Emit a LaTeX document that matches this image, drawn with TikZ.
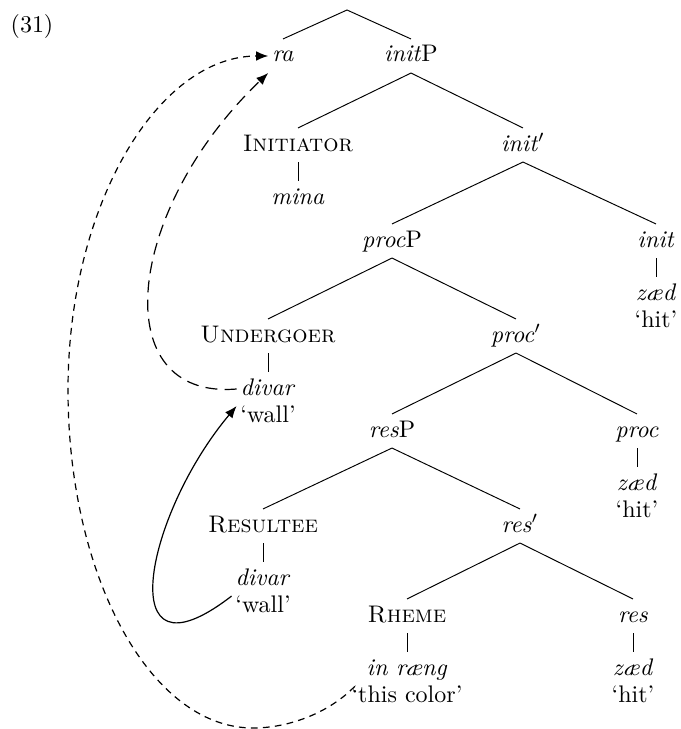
\documentclass[tikz,border=0pt]{standalone}
\usetikzlibrary{arrows.meta}
\begin{document}
\begin{tikzpicture}[x=0.4167pt,y=-0.4167pt,
  lbl/.style={inner xsep=1.5pt, inner ysep=2.4pt, text height=7pt, text depth=2pt},
  branch/.style={line width=0.4pt},
  mv/.style={line width=0.5pt, -{Latex[length=5pt,width=4pt]}},
  shortdash/.style={mv, dash pattern=on 2.8pt off 2.2pt},
  longdash/.style={mv, dash pattern=on 5pt off 3pt}]
\useasboundingbox (0,0) rectangle (680,729);

% example number
\node[lbl] (ex) at (32,27) {(31)};

% level 0
\coordinate (root) at (347,10);
\node[lbl] (ra) at (283,56) {\textit{ra}};
\node[lbl] (initP) at (411,56) {\textit{init}P};
% level 1
\node[lbl] (initiator) at (298,145) {\textsc{Initiator}};
\node[lbl] (mina) at (298,198) {\textit{mina}};
\node[lbl] (initbar) at (523,145) {\textit{init}$'$};
% level 2
\node[lbl] (procP) at (392,241) {\textit{proc}P};
\node[lbl] (init) at (656,241) {\textit{init}};
\node[lbl] (zaedA) at (656,294) {\textit{zæd}};
\node[lbl] (hitA) at (656,321) {`hit'};
% level 3
\node[lbl] (undergoer) at (268,336) {\textsc{Undergoer}};
\node[lbl] (dvA) at (268,389) {\textit{divar}};
\node[lbl] (wallA) at (268,416) {`wall'};
\node[lbl] (procbar) at (516,336) {\textit{proc}$'$};
% level 4
\node[lbl] (resP) at (392,431) {\textit{res}P};
\node[lbl] (proc) at (637,431) {\textit{proc}};
\node[lbl] (zaedB) at (637,484) {\textit{zæd}};
\node[lbl] (hitB) at (637,511) {`hit'};
% level 5
\node[lbl] (resultee) at (263,526) {\textsc{Resultee}};
\node[lbl] (dvB) at (263,579) {\textit{divar}};
\node[lbl] (wallB) at (263,606) {`wall'};
\node[lbl] (resbar) at (520,526) {\textit{res}$'$};
% level 6
\node[lbl] (rheme) at (407,616) {\textsc{Rheme}};
\node[lbl] (inraeng) at (407,669) {\textit{in ræng}};
\node[lbl] (tc) at (407,696) {`this color'};
\node[lbl] (res) at (633,616) {\textit{res}};
\node[lbl] (zaedC) at (633,669) {\textit{zæd}};
\node[lbl] (hitC) at (633,696) {`hit'};

% tree branches
\draw[branch] (ra.north) -- (root) -- (initP.north);
\draw[branch] (initiator.north) -- (initP.south) -- (initbar.north);
\draw[branch] (initiator.south) -- (mina.north);
\draw[branch] (procP.north) -- (initbar.south) -- (init.north);
\draw[branch] (init.south) -- (zaedA.north);
\draw[branch] (undergoer.north) -- (procP.south) -- (procbar.north);
\draw[branch] (undergoer.south) -- (dvA.north);
\draw[branch] (resP.north) -- (procbar.south) -- (proc.north);
\draw[branch] (proc.south) -- (zaedB.north);
\draw[branch] (resultee.north) -- (resP.south) -- (resbar.north);
\draw[branch] (resultee.south) -- (dvB.north);
\draw[branch] (rheme.north) -- (resbar.south) -- (res.north);
\draw[branch] (rheme.south) -- (inraeng.north);
\draw[branch] (res.south) -- (zaedC.north);

% movement arrows
\draw[mv] (dvB.south west) .. controls (110,690) and (145,515) .. (dvA.south west);
\draw[longdash] (dvA.west) .. controls (105,400) and (125,210) .. (ra.south west);
\draw[shortdash] ([xshift=3pt,yshift=4pt]tc.west)
  .. controls (330,712) and (290,728) .. (253,728)
  .. controls (150,728) and (68,576) .. (68,390)
  .. controls (68,205) and (158,56) .. (ra.west);
\end{tikzpicture}
\end{document}
